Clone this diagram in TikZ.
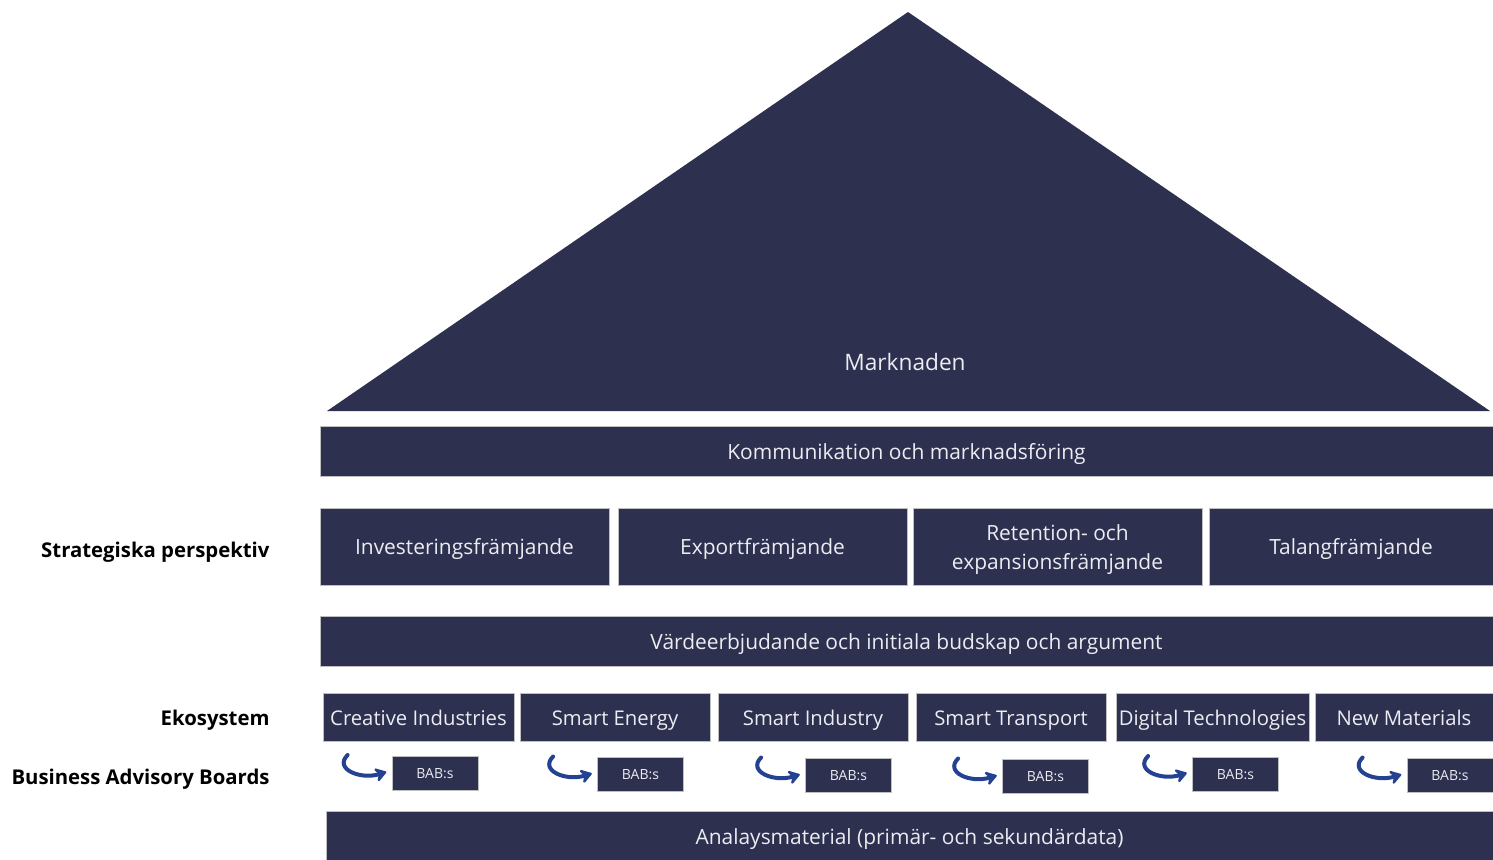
\documentclass[tikz,border=0pt]{standalone}
\usepackage{fontspec}
\setmainfont{Open Sans}
\usetikzlibrary{arrows.meta}

\definecolor{navy}{RGB}{45,48,79}
\definecolor{hookblue}{RGB}{36,66,145}
\tikzset{every picture/.style={line width=0.75pt}}
\tikzset{
  block/.style={fill=navy, draw=black!25, line width=0.6pt, text={rgb,255:red,236;green,236;blue,242},
    inner sep=0pt, align=center, font=\fontsize{15.7}{21.5}\selectfont},
  oneline/.style={text height=13.75pt, text depth=1.25pt},
  ecobox/.style={block, oneline, minimum height=36pt, font=\fontsize{15.2}{20}\selectfont},
  babbox/.style={block, minimum width=64.5pt, minimum height=25.5pt, text height=7.5pt, text depth=0pt, font=\fontsize{10.5}{12}\selectfont},
  sidelabel/.style={anchor=east, inner sep=0pt, font=\fontsize{15.25}{18}\selectfont\bfseries},
  hook/.style={draw=hookblue, line width=3pt, line cap=round, -{Stealth[length=10pt,width=13pt,inset=3.5pt,round]}}
}

\begin{document}
\begin{tikzpicture}[x=0.75pt,y=0.75pt,yscale=-1,xscale=1]
\useasboundingbox (0,0) rectangle (1493,860);

%Roof
\fill [navy] (908,12) -- (1490,411) -- (327,411) -- cycle ;
\node (market) [block, fill=none, draw=none, font=\fontsize{17}{20}\selectfont] at (905,362) {Marknaden};

%Bars
\node (komm) [block, oneline, minimum width=879.75pt, minimum height=37pt] at (906.5,451.5) {Kommunikation och marknadsföring};
\node (value) [block, oneline, minimum width=879.75pt, minimum height=37pt] at (906.5,641.5) {Värdeerbjudande och initiala budskap och argument};
\node (data) [block, oneline, minimum width=875.25pt, minimum height=37pt] at (909.5,836) {Analaysmaterial (primär- och sekundärdata)};

%Strategic perspectives
\node (invest) [block, oneline, minimum width=216.75pt, minimum height=57.75pt] at (464.5,546.5) {Investeringsfrämjande};
\node (export) [block, oneline, minimum width=216.75pt, minimum height=57.75pt] at (762.5,546.5) {Exportfrämjande};
\node (retent) [block, minimum width=216.75pt, minimum height=57.75pt] at (1057.5,546.5) {};
\node (retenttext) [text={rgb,255:red,236;green,236;blue,242}, inner sep=0pt, align=center, font=\fontsize{15.7}{21.5}\selectfont] at (1057.5,549.5) {Retention- och\\expansionsfrämjande};
\node (talent) [block, oneline, minimum width=213pt, minimum height=57.75pt] at (1351,546.5) {Talangfrämjande};

%Ecosystems
\node (creative) [ecobox, minimum width=143.25pt] at (418.5,717) {Creative Industries};
\node (energy) [ecobox, minimum width=142.5pt] at (615,717) {Smart Energy};
\node (industry) [ecobox, minimum width=142.5pt] at (813,717) {Smart Industry};
\node (transport) [ecobox, minimum width=142.5pt] at (1011,717) {Smart Transport};
\node (digital) [ecobox, minimum width=144.75pt] at (1212.5,717) {Digital Technologies};
\node (materials) [ecobox, minimum width=133.5pt] at (1404,717) {New Materials};

%BAB boxes and hooks
\foreach \name/\x/\y in {babA/435/773, babB/640.5/774.5, babC/848.5/775.5, babD/1045.5/776.5, babE/1235.5/774, babF/1450/775.5}{
  \node (\name) [babbox] at (\x,\y) {BAB:s};
  \coordinate (\name-start) at ([xshift=-33pt,yshift=-13.5pt]\name.west);
  \coordinate (\name-tip) at ([xshift=-4pt,yshift=-0.75pt]\name.west);
  \draw [hook] (\name-start) .. controls +(-14,14) and +(-26,8) .. (\name-tip);
}

%Side labels
\node (lblstrat) [sidelabel] at (270,552) {Strategiska perspektiv};
\node (lbleco) [sidelabel] at (270,720) {Ekosystem};
\node (lblbab) [sidelabel] at (270,779) {Business Advisory Boards};

\end{tikzpicture}
\end{document}
